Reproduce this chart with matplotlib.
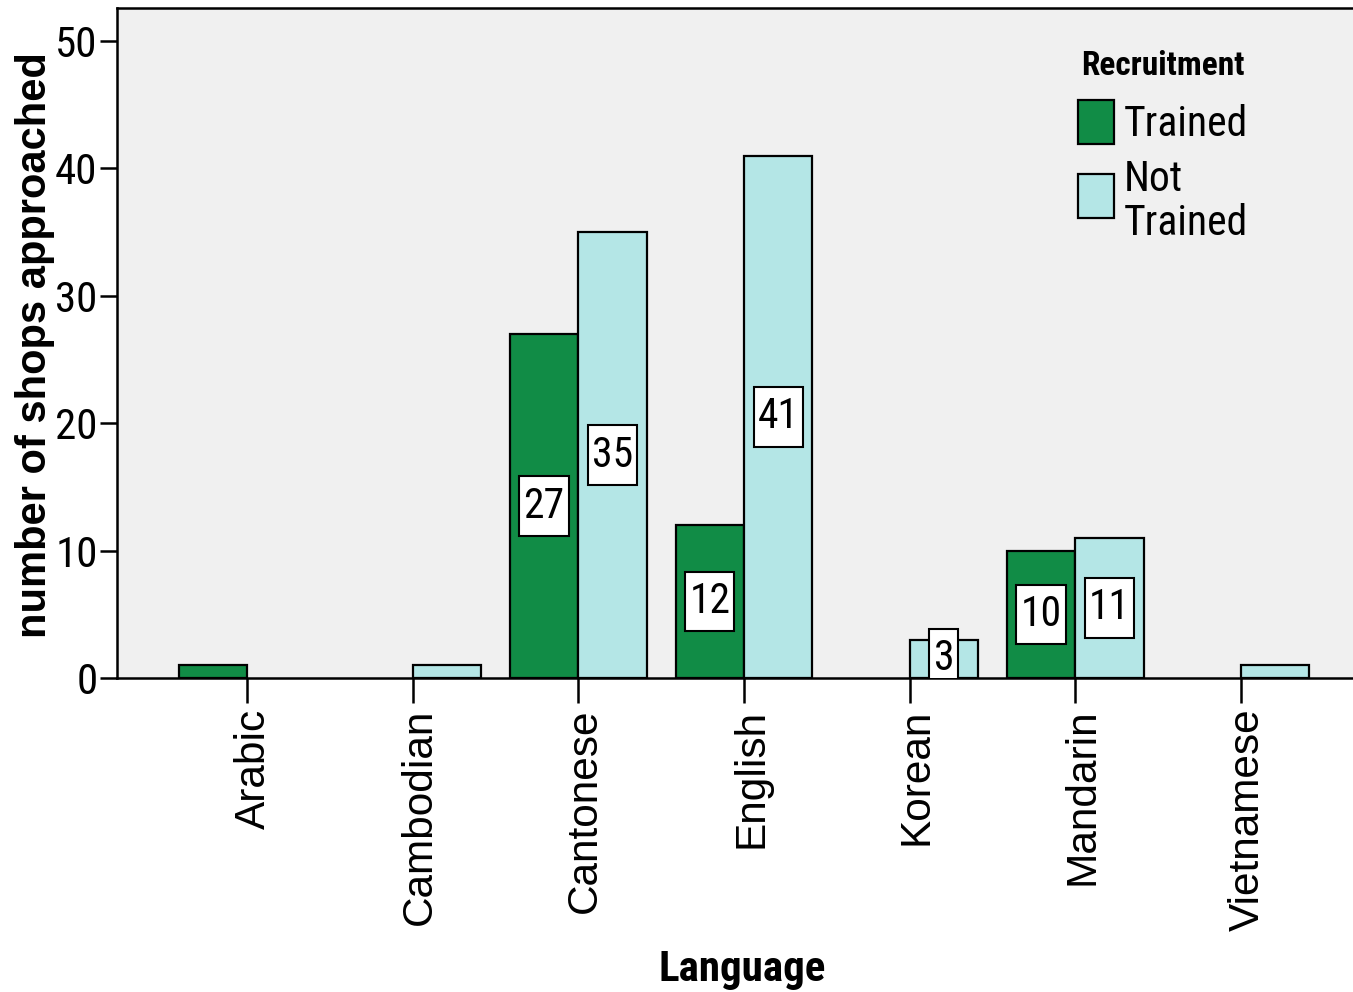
import matplotlib
matplotlib.use("Agg")
import matplotlib.pyplot as plt
import numpy as np
from matplotlib.patches import Patch
from matplotlib.path import Path
from matplotlib.transforms import ScaledTranslation

languages = ["Arabic", "Cambodian", "Cantonese", "English", "Korean", "Mandarin", "Vietnamese"]
trained = [1, 0, 27, 12, 0, 10, 0]
not_trained = [0, 1, 35, 41, 3, 11, 1]
series_names = ["Trained", "Not\nTrained"]
yticks = [0, 10, 20, 30, 40, 50]

GREEN = "#118C46"
CYAN = "#B4E6E6"
BG = "#F0F0F0"

REG = ["Liberation Sans", "DejaVu Sans"]
NARROW = ["Roboto Condensed", "Archivo Narrow", "Liberation Sans", "DejaVu Sans"]

fig = plt.figure(figsize=(13.53, 9.92), dpi=100)
W, H = 1353, 992
ax = fig.add_axes([117 / W, 1 - 678 / H, (1353 - 117) / W, (678 - 8) / H])
ax.set_facecolor(BG)


def label_box(x0, y0, width, height, mutation_size):
    px = 0.10 * mutation_size
    py = 0.22 * mutation_size
    x0, y0 = x0 - px, y0 - py
    x1, y1 = x0 + width + 2 * px, y0 + height + 2 * py
    return Path([(x0, y0), (x1, y0), (x1, y1), (x0, y1), (x0, y0)], closed=True)


x = np.arange(len(languages))
bw = 0.413
b1 = ax.bar(x - bw / 2, trained, width=bw, color=GREEN, edgecolor="black", linewidth=1.6, zorder=2)
b2 = ax.bar(x + bw / 2, not_trained, width=bw, color=CYAN, edgecolor="black", linewidth=1.6, zorder=2)

for bars, vals in ((b1, trained), (b2, not_trained)):
    for rect, v in zip(bars, vals):
        if v == 0:
            rect.set_visible(False)
        if v > 1:
            ax.text(rect.get_x() + rect.get_width() / 2, v / 2, str(v),
                    ha="center", va="center", fontsize=30, family=NARROW,
                    bbox=dict(boxstyle=label_box, fc="white", ec="black", lw=1.5),
                    zorder=3, clip_on=True)

ax.set_xlim(-0.785, 6.676)
ax.set_ylim(0, 52.6)
ax.set_yticks(yticks)
ax.set_yticklabels([str(t) for t in yticks], family=NARROW, fontsize=31)
ax.set_xticks(x)
ax.set_xticklabels(languages, rotation=90, family=REG, fontsize=30.5)
ax.tick_params(axis="y", length=12, width=1.8, pad=2, direction="out")
ax.tick_params(axis="x", length=18, width=1.8, pad=4, direction="out")
for lab in ax.get_xticklabels():
    lab.set_transform(lab.get_transform() + ScaledTranslation(7 / 100, 0, fig.dpi_scale_trans))

ax.spines["right"].set_visible(False)
for s in ("left", "top", "bottom"):
    ax.spines[s].set_linewidth(1.8)
    ax.spines[s].set_color("black")

ax.set_ylabel("number of shops approached", family=REG, fontweight="bold", fontsize=30)
ax.yaxis.set_label_coords(-0.0505, 0.497)
ax.set_xlabel("Language", family=NARROW, fontweight="bold", fontsize=31)
ax.xaxis.set_label_coords(0.5057, -0.405)

handles = [Patch(facecolor=GREEN, edgecolor="black", linewidth=1.6),
           Patch(facecolor=CYAN, edgecolor="black", linewidth=1.6)]
leg = ax.legend(handles, series_names, title="Recruitment", loc="upper left",
                bbox_to_anchor=(0.7775, 0.9375), frameon=False, borderpad=0,
                borderaxespad=0, handlelength=0.87, handleheight=1.25,
                handletextpad=0.24, labelspacing=0.15,
                prop=dict(family=NARROW, size=30),
                title_fontproperties=dict(family=NARROW, weight="bold", size=24))
for t in leg.get_texts():
    t.set_linespacing(1.1)
second = leg.get_texts()[1]
second.set_transform(second.get_transform() + ScaledTranslation(0, -8 / 100, fig.dpi_scale_trans))
leg._legend_box.sep = 13

fig.savefig("out.png", dpi=100, facecolor="white")
